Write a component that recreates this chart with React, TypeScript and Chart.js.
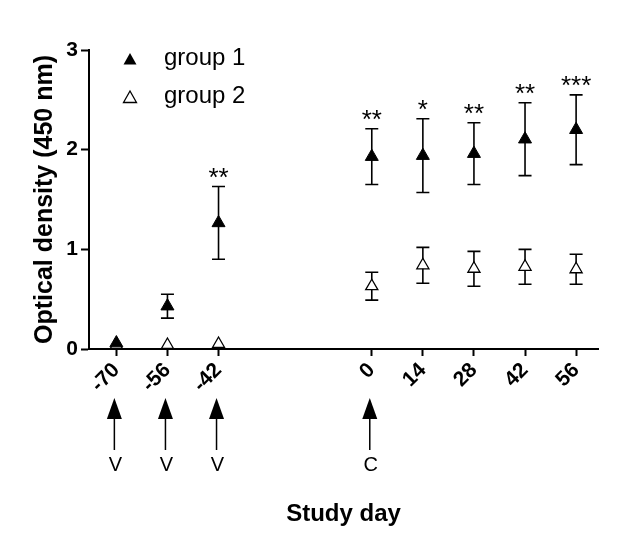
import { useEffect, useRef } from 'react';
import { Chart, registerables } from 'chart.js';

Chart.register(...registerables);

// ---- data ----
const days = [-70, -56, -42, 0, 14, 28, 42, 56];
const group1Mean = [0.06, 0.43, 1.265, 1.93, 1.94, 1.96, 2.105, 2.2];
const group1Err = [0, 0.12, 0.365, 0.28, 0.37, 0.31, 0.365, 0.35];
const group2Mean = [0.04, 0.04, 0.05, 0.63, 0.84, 0.805, 0.825, 0.8];
const group2Err = [0, 0, 0, 0.14, 0.18, 0.175, 0.175, 0.15];
const significance = ['', '', '**', '**', '*', '**', '**', '***'];
const yTickValues = [0, 1, 2, 3];
const arrowDays = [-70, -56, -42, 0];
const arrowLabels = ['V', 'V', 'V', 'C'];
const seriesNames = ['group 1', 'group 2'];

const FONT = 'Arial, "Liberation Sans", sans-serif';

const errorBarPlugin = {
  id: 'errorBars',
  beforeDatasetsDraw(chart: any) {
    const { ctx, scales } = chart;
    const x = scales.x;
    const y = scales.y;
    const sets = [
      { mean: group1Mean, err: group1Err },
      { mean: group2Mean, err: group2Err },
    ];
    ctx.save();
    ctx.strokeStyle = '#000';
    ctx.lineWidth = 1.6;
    sets.forEach((s) => {
      days.forEach((d, i) => {
        if (!s.err[i]) return;
        const px = x.getPixelForValue(d);
        const top = y.getPixelForValue(s.mean[i] + s.err[i]);
        const bot = y.getPixelForValue(s.mean[i] - s.err[i]);
        ctx.beginPath();
        ctx.moveTo(px, top);
        ctx.lineTo(px, bot);
        ctx.moveTo(px - 6.5, top);
        ctx.lineTo(px + 6.5, top);
        ctx.moveTo(px - 6.5, bot);
        ctx.lineTo(px + 6.5, bot);
        ctx.stroke();
      });
    });
    ctx.restore();
  },
};

const annotationPlugin = {
  id: 'annotations',
  afterDraw(chart: any) {
    const { ctx, scales, chartArea } = chart;
    const x = scales.x;
    const y = scales.y;
    ctx.save();
    // significance stars
    ctx.fillStyle = '#000';
    ctx.font = `26px ${FONT}`;
    ctx.textAlign = 'center';
    ctx.textBaseline = 'alphabetic';
    days.forEach((d, i) => {
      if (!significance[i]) return;
      const px = x.getPixelForValue(d);
      const top = y.getPixelForValue(group1Mean[i] + group1Err[i]);
      ctx.fillText(significance[i], px, top - 1);
    });
    // arrows
    const b = chartArea.bottom;
    arrowDays.forEach((d, i) => {
      const px = x.getPixelForValue(d) - 2;
      ctx.beginPath();
      ctx.moveTo(px, b + 49);
      ctx.lineTo(px + 7.5, b + 70);
      ctx.lineTo(px - 7.5, b + 70);
      ctx.closePath();
      ctx.fill();
      ctx.beginPath();
      ctx.lineWidth = 1.5;
      ctx.strokeStyle = '#000';
      ctx.moveTo(px, b + 70);
      ctx.lineTo(px, b + 101);
      ctx.stroke();
      ctx.font = `20px ${FONT}`;
      ctx.textBaseline = 'middle';
      ctx.fillText(arrowLabels[i], px + 1, b + 116);
    });
    // legend
    const lx = chartArea.left + 41;
    const rows = [chartArea.top + 9, chartArea.top + 47];
    rows.forEach((ry, i) => {
      ctx.beginPath();
      ctx.moveTo(lx, ry - 6);
      ctx.lineTo(lx + 6.5, ry + 5.5);
      ctx.lineTo(lx - 6.5, ry + 5.5);
      ctx.closePath();
      if (i === 0) {
        ctx.fillStyle = '#000';
        ctx.fill();
      } else {
        ctx.fillStyle = '#fff';
        ctx.fill();
        ctx.lineWidth = 1.3;
        ctx.strokeStyle = '#000';
        ctx.stroke();
      }
      ctx.fillStyle = '#000';
      ctx.font = `24px ${FONT}`;
      ctx.textAlign = 'left';
      ctx.textBaseline = 'middle';
      ctx.fillText(seriesNames[i], lx + 34, ry - 1);
    });
    ctx.restore();
  },
};

export default function App() {
  const ref = useRef<HTMLCanvasElement | null>(null);
  useEffect(() => {
    if (!ref.current) return;
    const chart = new Chart(ref.current, {
      type: 'scatter',
      data: {
        datasets: [
          {
            label: seriesNames[0],
            data: days.map((d, i) => ({ x: d, y: group1Mean[i] })),
            pointStyle: 'triangle',
            pointRadius: 7.5,
            pointBackgroundColor: '#000',
            pointBorderColor: '#000',
            pointBorderWidth: 1,
            showLine: false,
            clip: false,
          },
          {
            label: seriesNames[1],
            data: days.map((d, i) => ({ x: d, y: group2Mean[i] })),
            pointStyle: 'triangle',
            pointRadius: 7,
            pointBackgroundColor: '#fff',
            pointBorderColor: '#000',
            pointBorderWidth: 1.3,
            showLine: false,
            clip: false,
          },
        ],
      },
      options: {
        responsive: false,
        animation: false,
        layout: { padding: { left: 0, top: 50, right: 26, bottom: 0 } },
        plugins: { legend: { display: false }, tooltip: { enabled: false } },
        scales: {
          x: {
            type: 'linear',
            min: -77.5,
            max: 62,
            afterBuildTicks: (s: any) => {
              s.ticks = days.map((v) => ({ value: v }));
            },
            afterFit: (s: any) => {
              s.height = 190;
            },
            ticks: {
              autoSkip: false,
              minRotation: 45,
              maxRotation: 45,
              color: '#000',
              padding: 2,
              font: { family: FONT, size: 21, weight: 'bold' },
              callback: (v: any) => String(v),
            },
            grid: {
              drawOnChartArea: false,
              drawTicks: true,
              tickLength: 7,
              tickWidth: 2,
              tickColor: '#000',
            },
            border: { display: true, color: '#000', width: 2 },
            title: {
              display: true,
              text: 'Study day',
              color: '#000',
              font: { family: FONT, size: 24, weight: 'bold' },
              padding: { top: 0, bottom: 10 },
            },
          },
          y: {
            type: 'linear',
            min: 0,
            max: 3,
            afterBuildTicks: (s: any) => {
              s.ticks = yTickValues.map((v) => ({ value: v }));
            },
            afterFit: (s: any) => {
              s.width = 89;
            },
            ticks: {
              color: '#000',
              padding: 3,
              font: { family: FONT, size: 21, weight: 'bold' },
            },
            grid: {
              drawOnChartArea: false,
              drawTicks: true,
              tickLength: 8,
              tickWidth: 2,
              tickColor: '#000',
            },
            border: { display: true, color: '#000', width: 2 },
            title: {
              display: true,
              text: 'Optical density (450 nm)',
              color: '#000',
              font: { family: FONT, size: 25, weight: 'bold' },
              padding: { top: 30, bottom: 0 },
            },
          },
        },
      },
      plugins: [errorBarPlugin, annotationPlugin],
    });
    return () => chart.destroy();
  }, []);
  return (
    <div style={{ position: 'fixed', left: 0, top: 0, width: 624, height: 539, background: '#fff' }}>
      <canvas ref={ref} width={624} height={539} style={{ display: 'block' }} />
    </div>
  );
}
